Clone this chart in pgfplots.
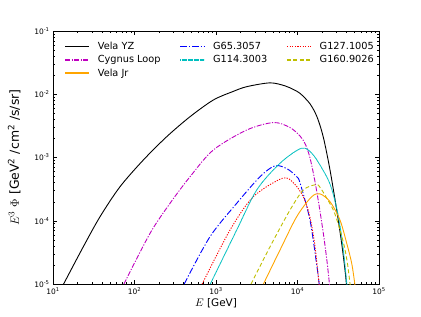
\documentclass[border=0pt]{standalone}
\usepackage{pgfplots}
\pgfplotsset{compat=1.18}
\usepackage{fontspec}
\setmainfont{DejaVu Sans}
\definecolor{mplm}{rgb}{0.75,0,0.75}
\definecolor{mplc}{rgb}{0,0.75,0.75}
\definecolor{mply}{rgb}{0.75,0.75,0}
\definecolor{mplo}{rgb}{1,0.647,0}
\begin{document}
\begin{tikzpicture}
\begin{axis}[
  scale only axis, width=326bp, height=253bp,
  xmode=log, ymode=log,
  xmin=10, xmax=1e5, ymin=1e-5, ymax=1e-1,
  xtick={10,100,1000,10000,100000},
  xticklabels={10\textsuperscript{1},10\textsuperscript{2},10\textsuperscript{3},10\textsuperscript{4},10\textsuperscript{5}},
  ytick={1e-5,1e-4,1e-3,1e-2,1e-1},
  yticklabels={10\textsuperscript{-5},10\textsuperscript{-4},10\textsuperscript{-3},10\textsuperscript{-2},10\textsuperscript{-1}},
  tick label style={font=\fontsize{7.5}{9}\selectfont},
  xlabel={$E$ [GeV]},
  ylabel={$E^3\ \Phi$ [GeV\textsuperscript{2} /cm\textsuperscript{2} /s/sr]},
  xlabel style={font=\fontsize{10.5}{12}\selectfont, yshift=3pt},
  ylabel style={font=\fontsize{12.5}{14}\selectfont, yshift=7pt},
  major tick length=4bp, minor tick length=2bp,
  every tick/.style={black, line width=0.4pt},
  axis line style={line width=0.8pt},
  legend style={draw=none, fill=none, font=\fontsize{9.8}{11}\selectfont, at={(0.025,0.973)}, anchor=north west,
    column sep=6bp, row sep=0.5bp, /tikz/every even column/.append style={column sep=17bp}},
  legend columns=3,
  legend cell align=left,
  legend image code/.code={\draw[#1, line width=1.5pt] (0bp,0bp) -- (24bp,0bp);},
  every axis plot/.append style={line width=0.9pt},
  clip=true,
]
% row 1
\addplot[black, solid, smooth] coordinates {
(13.49,1.0e-5) (23.55,3.89e-5) (37.76,1.159e-4) (66.37,3.45e-4) (128.2,9.12e-4)
(248.3,2.133e-3) (479.7,4.416e-3) (926.8,8.11e-3) (1600,1.10e-2) (2382,1.318e-2) (4603,1.514e-2)
(7000,1.36e-2) (8872,1.189e-2) (10740,1.035e-2) (14220,7.08e-3) (17380,4.37e-3) (20750,2.09e-3)
(25060,6.34e-4) (30270,1.479e-4) (34830,4.40e-5) (38280,1.663e-5) (39810,1.0e-5) (40300,8e-6)};
\addlegendentry{Vela YZ}
\addplot[blue, dash pattern=on 6.5bp off 2bp on 1.2bp off 2bp, smooth] coordinates {
(407.4,1.0e-5) (843.4,5.60e-5) (1795,1.888e-4) (3467,4.97e-4) (5309,7.41e-4)
(7500,6.6e-4) (9772,4.97e-4) (10760,3.94e-4) (14220,1.028e-4) (17220,2.0e-5) (18450,1.0e-5) (18800,8e-6)};
\addlegendentry{G65.3057}
\addplot[red, dash pattern=on 1.2bp off 1.4bp, smooth] coordinates {
(676.1,1.0e-5) (1486,7.14e-5) (2871,2.40e-4) (6531,4.70e-4) (8913,3.98e-4) (11780,2.40e-4)
(14130,1.175e-4) (16220,4.37e-5) (18410,1.0e-5) (18700,8e-6)};
\addlegendentry{G127.1005}
% row 2
\addplot[mplm, dash pattern=on 5bp off 1.5bp on 1.2bp off 1.5bp, smooth] coordinates {
(74.1,1.0e-5) (154.9,6.31e-5) (272.9,1.888e-4) (479.7,4.966e-4) (926.8,1.315e-3)
(2382,2.723e-3) (5070,3.573e-3) (8000,3.0e-3) (10740,2.19e-3) (12590,1.585e-3) (14260,9.77e-4)
(16220,4.47e-4) (18200,1.905e-4) (20750,6.31e-5) (22910,2.40e-5) (24660,1.0e-5) (25000,8e-6)};
\addlegendentry{Cygnus Loop}
\addplot[mplc, dash pattern=on 0.8bp off 0.4bp, smooth] coordinates {
(851.1,1.0e-5) (1795,7.14e-5) (3155,3.06e-4) (6095,8.11e-4) (11270,1.403e-3)
(15630,1.096e-3) (22800,4.97e-4) (26300,3.16e-4) (30270,1.585e-4) (33880,7.08e-5) (37150,2.82e-5) (40270,1.0e-5) (40800,8e-6)};
\addlegendentry{G114.3003}
\addplot[mply, dash pattern=on 4bp off 2.5bp, smooth] coordinates {
(2692,1.0e-5) (4603,3.89e-5) (8091,1.479e-4) (11780,3.06e-4) (16440,3.70e-4)
(18880,3.39e-4) (27480,1.479e-4) (33190,7.14e-5) (37150,4.17e-5) (40740,2.24e-5) (44160,1.0e-5) (44700,8e-6)};
\addlegendentry{G160.9026}
% row 3
\addplot[mplo, solid, smooth] coordinates {
(3819,1.0e-5) (6095,3.44e-5) (9772,1.159e-4) (14790,2.371e-4) (18880,2.661e-4)
(25060,2.0e-4) (33190,1.028e-4) (40180,4.40e-5) (46240,2.123e-5) (50470,1.0e-5) (51000,8e-6)};
\addlegendentry{Vela Jr}
\end{axis}
\pgfresetboundingbox
\path ([xshift=-53bp,yshift=-32bp]current axis.south west) rectangle ([xshift=42bp,yshift=31bp]current axis.north east);
\end{tikzpicture}
\end{document}
